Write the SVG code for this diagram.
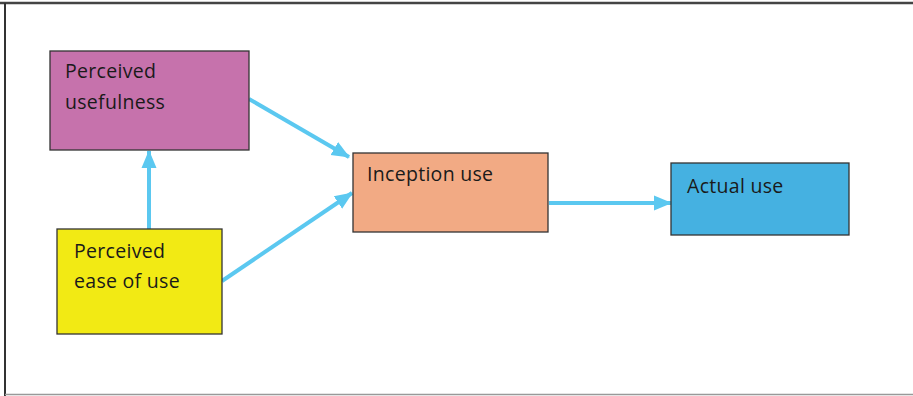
<svg xmlns="http://www.w3.org/2000/svg" width="913" height="396" viewBox="0 0 913 396">
<style>
.box{stroke:#333;stroke-width:1.3}
.lbl{font-family:"Open Sans","Liberation Sans",sans-serif;font-size:19.5px;letter-spacing:0.3px;fill:#1a1a1a}
.conn{stroke:#5BC8F0;stroke-width:4;fill:none;marker-end:url(#ah)}
</style>
<defs>
<marker id="ah" markerUnits="userSpaceOnUse" markerWidth="18" markerHeight="18" viewBox="0 0 18 18" refX="17" refY="9" orient="auto">
<path d="M0,1.5 L18,9 L0,16.5 Z" fill="#5BC8F0"/>
</marker>
</defs>
<rect x="0" y="0" width="913" height="396" fill="#fff"/>
<line x1="0" y1="3" x2="913" y2="3" stroke="#444" stroke-width="2.5"/>
<line x1="5" y1="3" x2="5" y2="396" stroke="#333" stroke-width="2"/>
<line x1="5" y1="394.5" x2="913" y2="394.5" stroke="#999" stroke-width="1.5"/>
<g id="connectors">
<line class="conn" x1="149" y1="229" x2="149" y2="151"/>
<line class="conn" x1="249" y1="99" x2="349" y2="157"/>
<line class="conn" x1="222" y1="281" x2="352" y2="193"/>
<line class="conn" x1="549" y1="203" x2="671" y2="203"/>
</g>
<g id="perceived-usefulness">
<rect class="box" x="50" y="51" width="199" height="99" fill="#C672AC"/>
<text class="lbl" x="65" y="78">Perceived</text>
<text class="lbl" x="65" y="109">usefulness</text>
</g>
<g id="perceived-ease">
<rect class="box" x="57" y="229" width="165" height="105" fill="#F2EA14"/>
<text class="lbl" x="74" y="258">Perceived</text>
<text class="lbl" x="74" y="288">ease of use</text>
</g>
<g id="inception-use">
<rect class="box" x="353" y="153" width="195" height="79" fill="#F2AA84"/>
<text class="lbl" x="367" y="181">Inception use</text>
</g>
<g id="actual-use">
<rect class="box" x="671" y="163" width="178" height="72" fill="#45B1E1"/>
<text class="lbl" x="687" y="193">Actual use</text>
</g>
</svg>
